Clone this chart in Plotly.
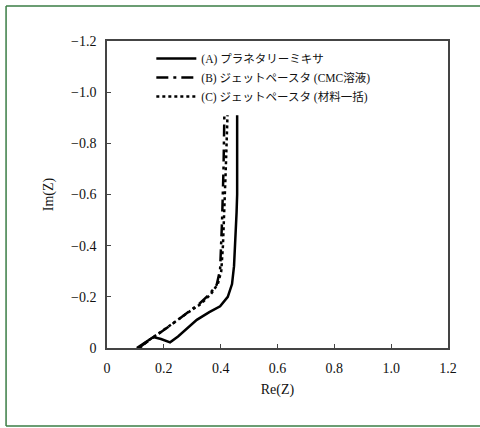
import plotly.graph_objects as go

# Data (Nyquist plot)
a_name = "(A) プラネタリーミキサ"
a_re = [0.105, 0.13, 0.163, 0.19, 0.222, 0.25, 0.275, 0.285, 0.295, 0.316, 0.36, 0.398, 0.425, 0.44, 0.447, 0.452, 0.456, 0.458, 0.458]
a_im = [0.0, -0.02, -0.043, -0.035, -0.022, -0.045, -0.07, -0.078, -0.088, -0.11, -0.14, -0.163, -0.2, -0.25, -0.32, -0.42, -0.53, -0.6, -0.91]

b_name = "(B) ジェットペースタ (CMC溶液)"
b_re = [0.11, 0.13, 0.151, 0.2, 0.25, 0.3, 0.327, 0.36, 0.386, 0.398, 0.402, 0.405, 0.41, 0.413]
b_im = [0.0, -0.015, -0.031, -0.07, -0.11, -0.15, -0.175, -0.21, -0.247, -0.306, -0.4, -0.5, -0.7, -0.91]

c_name = "(C) ジェットペースタ (材料一括)"
c_re = [0.115, 0.14, 0.16, 0.2, 0.25, 0.3, 0.33, 0.365, 0.39, 0.402, 0.408, 0.412, 0.418, 0.424]
c_im = [0.0, -0.025, -0.04, -0.072, -0.11, -0.15, -0.172, -0.21, -0.25, -0.3, -0.4, -0.5, -0.7, -0.91]

tick_vals = [0, 0.2, 0.4, 0.6, 0.8, 1.0, 1.2]
x_tick_text = ["0", "0.2", "0.4", "0.6", "0.8", "1.0", "1.2"]
y_tick_vals = [0, -0.2, -0.4, -0.6, -0.8, -1.0, -1.2]
y_tick_text = ["0", "−0.2", "−0.4", "−0.6", "−0.8", "−1.0", "−1.2"]

FONT = "Liberation Serif, 'Noto Sans CJK JP', serif"
TXT = "#111"

fig = go.Figure()
fig.add_trace(go.Scatter(x=a_re, y=a_im, mode="lines", name=a_name,
                         line=dict(color="black", width=2.5, dash="solid")))
fig.add_trace(go.Scatter(x=b_re, y=b_im, mode="lines", name=b_name,
                         line=dict(color="black", width=2.5, dash="12px,5px,3px,5px")))
fig.add_trace(go.Scatter(x=c_re, y=c_im, mode="lines", name=c_name,
                         line=dict(color="black", width=2.5, dash="3px,3px")))

axis_common = dict(showgrid=False, zeroline=False, showline=True, linecolor="#444",
                   linewidth=1.5, mirror=True, ticks="inside", ticklen=4,
                   tickcolor="#444", tickfont=dict(family=FONT, size=14, color=TXT))

fig.update_xaxes(range=[0, 1.2], tickvals=tick_vals, ticktext=x_tick_text,
                 title=dict(text="Re(Z)", font=dict(family=FONT, size=14, color=TXT), standoff=10),
                 ticklabelstandoff=6, **axis_common)
fig.update_yaxes(range=[0, -1.2], tickvals=y_tick_vals, ticktext=y_tick_text,
                 title=dict(text="Im(Z)", font=dict(family=FONT, size=14, color=TXT), standoff=14),
                 ticklabelstandoff=6, **axis_common)

# outer green frame: left, top and bottom edges (right edge lies beyond the image)
frame = dict(color="#3a7d44", width=1.5)
xl, xr, yb, yt = -0.296, 1.3, -0.254, 1.114
for (x0, y0, x1, y1) in [(xl, yb, xl, yt), (xl, yt, xr, yt), (xl, yb, xr, yb)]:
    fig.add_shape(type="line", xref="paper", yref="paper", x0=x0, y0=y0, x1=x1, y1=y1,
                  line=frame, layer="below")

fig.update_layout(
    width=480, height=428,
    margin=dict(l=107, r=32, t=41, b=80),
    paper_bgcolor="white", plot_bgcolor="white",
    font=dict(family=FONT, size=14, color=TXT),
    showlegend=True,
    legend=dict(x=0.13, y=0.99, xanchor="left", yanchor="top",
                bgcolor="rgba(0,0,0,0)", borderwidth=0, tracegroupgap=0,
                font=dict(family=FONT, size=11.5, color=TXT), itemwidth=40),
)

fig.write_html("out.html")
